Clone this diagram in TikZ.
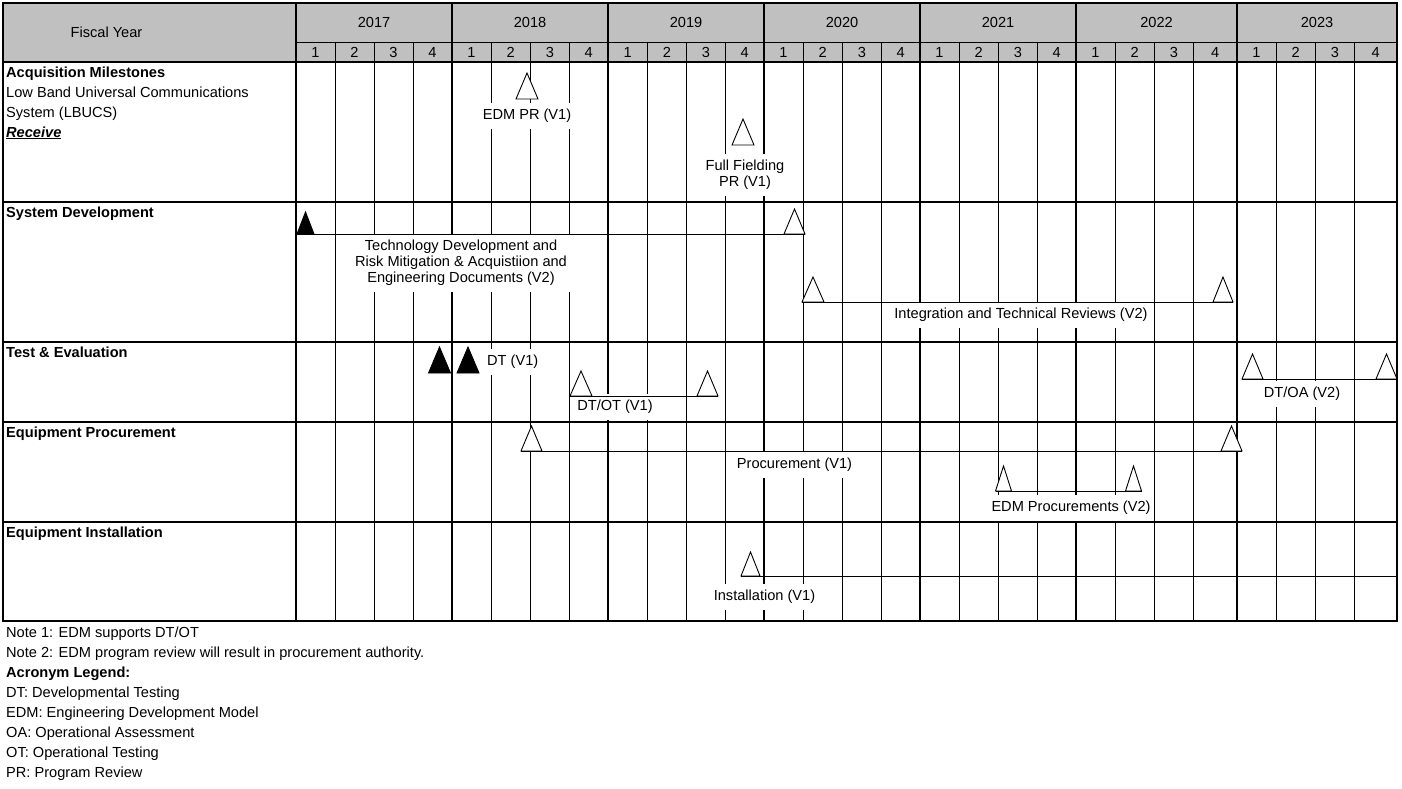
\documentclass[tikz,border=0pt]{standalone}
\usepackage{fontspec}
\setmainfont{Liberation Sans}
\usetikzlibrary{calc}
\definecolor{hdrgray}{RGB}{192,192,192}
% #1 fill, #2 name, #3 x, #4 base y, #5 half width, #6 height
\newcommand{\mstone}[6]{%
  \coordinate (#2) at (#3,#4);
  \coordinate (#2-l) at ($(#2)+(-#5,0)$);
  \coordinate (#2-r) at ($(#2)+(#5,0)$);
  \coordinate (#2-t) at ($(#2)+(0,-#6)$);
  \draw[tri,fill=#1] (#2-l) -- (#2-t) -- (#2-r) -- cycle;}
\begin{document}
\begin{tikzpicture}[x=1pt,y=-1pt,
  every node/.style={font=\fontsize{14.6}{16}\selectfont, inner sep=0pt, text=black},
  thickln/.style={line width=2.6pt},
  thinln/.style={line width=1pt},
  tri/.style={line width=0.9pt, line join=miter},
  bar/.style={line width=0.9pt},
  lbl/.style={fill=white, align=center, inner xsep=3pt, inner ysep=6pt},
  side/.style={anchor=base west}]
\useasboundingbox (0,0) rectangle (1402,788);
\fill[white] (0,0) rectangle (1402,788);
% header background
\fill[hdrgray] (3,3) rectangle (1397,62);
% thin quarter lines
\foreach \x in {335,374,413,491,530.5,569.5,647.5,686.5,725.5,803,842.5,881.5,959,998.5,1037.5,1115,1154.5,1193.5,1276,1315.5,1354.5}
  \draw[thinln] (\x,42.5) -- (\x,621);
\draw[thinln] (296,42.5) -- (1397,42.5);
% thick lines
\foreach \x in {296,452,608,764,920,1076,1237}
  \draw[thickln] (\x,3) -- (\x,621);
\foreach \y in {62,202,342,422,522}
  \draw[thickln] (3,\y) -- (1397,\y);
\draw[thickln] (3,3) rectangle (1397,621);
% header texts
\node (fy) at (106.5,32) {Fiscal Year};
\foreach \a/\b/\yr in {296/452/2017,452/608/2018,608/764/2019,764/920/2020,920/1076/2021,1076/1237/2022,1237/1397/2023}
  \node (yr\yr) at ({(\a+\b)/2},22) {\yr};
\foreach \a/\b/\q in {296/335/1,335/374/2,374/413/3,413/452/4,
  452/491/1,491/530.5/2,530.5/569.5/3,569.5/608/4,
  608/647.5/1,647.5/686.5/2,686.5/725.5/3,725.5/764/4,
  764/803/1,803/842.5/2,842.5/881.5/3,881.5/920/4,
  920/959/1,959/998.5/2,998.5/1037.5/3,1037.5/1076/4,
  1076/1115/1,1115/1154.5/2,1154.5/1193.5/3,1193.5/1237/4,
  1237/1276/1,1276/1315.5/2,1315.5/1354.5/3,1354.5/1397/4}
  \node (q\a) at ({(\a+\b)/2},52) {\q};
% row headers
\node[side] (h1) at (6,77) {\textbf{Acquisition Milestones}};
\node[side] (h1b) at (6,97) {Low Band Universal Communications};
\node[side] (h1c) at (6,117) {System (LBUCS)};
\node[side] (h1d) at (6,137) {\underline{\textbf{\textit{Receive}}}};
\node[side] (h2) at (6,217) {\textbf{System Development}};
\node[side] (h3) at (6,357) {\textbf{Test \& Evaluation}};
\node[side] (h4) at (6,437) {\textbf{Equipment Procurement}};
\node[side] (h5) at (6,537) {\textbf{Equipment Installation}};
% notes
\node[side] (n1) at (6,637) {Note 1: EDM supports DT/OT};
\node[side] (n2) at (6,657) {Note 2: EDM program review will result in procurement authority.};
\node[side] (n3) at (6,677) {\textbf{Acronym Legend:}};
\node[side] (n4) at (6,697) {DT: Developmental Testing};
\node[side] (n5) at (6,717) {EDM: Engineering Development Model};
\node[side] (n6) at (6,737) {OA: Operational Assessment};
\node[side] (n7) at (6,757) {OT: Operational Testing};
\node[side] (n8) at (6,777) {PR: Program Review};
% labels (white boxes cut grid lines)
\node[lbl] (edmpr) at (527,116) {EDM PR (V1)};
\node[lbl] (ffpr) at (745,175) {Full Fielding\\PR (V1)};
\node[lbl] (tech) at (461,263) {Technology Development and\\Risk Mitigation \& Acquistiion and\\Engineering Documents (V2)};
\node[lbl] (itr) at (1021,315) {Integration and Technical Reviews (V2)};
\node[lbl, anchor=west, inner xsep=1pt] (dt) at (486,362) {DT (V1)};
\node[lbl] (dtot) at (615,407) {DT/OT (V1)};
\node[lbl] (dtoa) at (1302,394) {DT/OA (V2)};
\node[lbl] (proc) at (794.5,465) {Procurement (V1)};
\node[lbl] (edmp) at (1071,508) {EDM Procurements (V2)};
\node[lbl] (inst) at (764.5,597) {Installation (V1)};
% acquisition milestones
\mstone{white}{a1}{527}{99}{11}{26}
\mstone{white}{a2}{743}{145}{11}{26}
% system development
\mstone{black}{s1}{305.5}{234}{8.5}{22}
\mstone{white}{s2}{794.5}{234}{10.5}{25}
\draw[bar] (s1-l) -- (s2-r);
\mstone{white}{s3}{813}{302}{11}{25}
\mstone{white}{s4}{1223}{302}{10}{25}
\draw[bar] (s3-l) -- (s4-r);
% test & evaluation
\mstone{black}{t1}{439.5}{373}{11}{26}
\mstone{black}{t2}{468}{373}{11}{26}
\mstone{white}{t3}{581}{396}{11}{25}
\mstone{white}{t4}{707.5}{396}{10.5}{25}
\draw[bar] (t3-l) -- (t4-r);
\mstone{white}{t5}{1252.5}{379}{10.5}{25}
\mstone{white}{t6}{1386.5}{379}{10.5}{25}
\draw[bar] (t5-l) -- (t6-r);
% equipment procurement
\mstone{white}{p1}{531.5}{451}{10.5}{25}
\mstone{white}{p2}{1231.5}{451}{10.5}{25}
\draw[bar] (p1-l) -- (p2-r);
\mstone{white}{p3}{1003.5}{491}{8}{25}
\mstone{white}{p4}{1133.5}{491}{8}{25}
\draw[bar] (p3-l) -- (p4-r);
% equipment installation
\mstone{white}{i1}{750.5}{576}{9.5}{24}
\coordinate (iend) at (1397,576);
\draw[bar] (i1-l) -- (iend);
\end{tikzpicture}
\end{document}
